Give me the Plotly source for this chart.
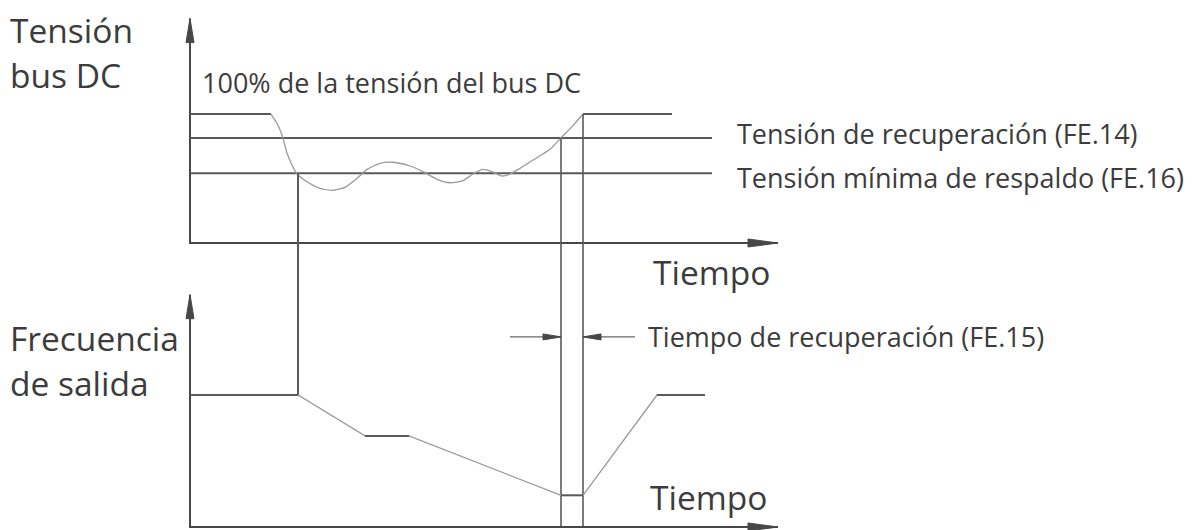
import plotly.graph_objects as go

W, H = 1194, 530

# ---------------- data ----------------
# time in arbitrary units, bus voltage in % of nominal, output frequency in % of reference
V_FULL = 100
V_REC = 81.5      # FE.14 recovery voltage
V_MIN = 54        # FE.16 minimum backup voltage

T_DROP = 81       # power loss begins
T_MIN = 108       # bus reaches minimum -> frequency starts to decrease
T_REC = 371       # bus reaches recovery voltage
T_FULL = 393      # bus back to 100 %
T_V_END = 482
T_LEVEL_END = 522
T_AXIS_END = 588

curve_t = [81, 87, 92, 97, 102, 107, 117, 130, 143, 155, 167, 177, 190, 203, 220,
           233, 247, 260, 273, 283, 293, 302, 312, 320, 330, 343, 360, 371, 382, 393]
curve_v = [100, 92.8, 83.7, 69.8, 60.5, 53.5, 47.5, 42.4, 40.9, 43.2, 50.2, 57.1, 61.8,
           62.6, 59.7, 55.3, 49.4, 46.7, 48.3, 53.5, 57.1, 55.3, 51.9, 53.5, 57.9, 64.3,
           72.6, 81.6, 90.2, 100]

freq_t = [0, 108, 175, 219, 371, 393, 467, 515]
freq_f = [100, 100, 69, 69, 24, 24, 100, 100]

V_AXIS_TOP = 174
F_AXIS_TOP = 176
F_ARROW = 144

label_v_axis = ["Tensión", "bus DC"]
label_f_axis = ["Frecuencia", "de salida"]
label_full = "100% de la tensión del bus DC"
label_rec = "Tensión de recuperación (FE.14)"
label_min = "Tensión mínima de respaldo (FE.16)"
label_time = "Tiempo"
label_rec_time = "Tiempo de recuperación (FE.15)"

# ---------------- layout helpers ----------------
X_RANGE = [-190, 1004]
V_RANGE = [-222.5, 188.4]
F_RANGE = [-2.27, 399.2]


def f_to_v(f):
    frac = (f - F_RANGE[0]) / (F_RANGE[1] - F_RANGE[0])
    return V_RANGE[0] + frac * (V_RANGE[1] - V_RANGE[0])


AX = "#474747"
LV = "#5a5a5a"
CURVE = "#9a9a9a"
TXT = "#3c3c3c"
FONT = "Open Sans"
BIG = 33.5
MED = 27

fig = go.Figure()


def seg(xs, ys, color, width, yaxis="y"):
    fig.add_trace(go.Scatter(x=xs, y=ys, mode="lines", yaxis=yaxis,
                             line=dict(color=color, width=width),
                             hoverinfo="skip", showlegend=False))


# axes of the two panels
seg([0, 0, T_AXIS_END], [V_AXIS_TOP, 0, 0], AX, 2)
seg([0, 0, T_AXIS_END], [F_AXIS_TOP, 0, 0], AX, 2, "y2")

# voltage levels
seg([0, T_DROP], [V_FULL, V_FULL], LV, 2)
seg([0, T_LEVEL_END], [V_REC, V_REC], LV, 2)
seg([0, T_LEVEL_END], [V_MIN, V_MIN], LV, 2)
seg([T_FULL, T_V_END], [V_FULL, V_FULL], LV, 2)

# bus voltage curve
fig.add_trace(go.Scatter(x=curve_t, y=curve_v, mode="lines",
                         line=dict(color=CURVE, width=1.3, shape="spline", smoothing=0.6),
                         hoverinfo="skip", showlegend=False))

# vertical connectors crossing both panels
seg([T_MIN, T_MIN], [V_MIN, f_to_v(freq_f[1])], LV, 2)
seg([T_REC, T_REC], [V_REC, f_to_v(0)], LV, 1.6)
seg([T_FULL, T_FULL], [V_FULL, f_to_v(0)], LV, 1.6)

# output frequency
fig.add_trace(go.Scatter(x=freq_t, y=freq_f, mode="lines", yaxis="y2",
                         line=dict(color=CURVE, width=1.3),
                         hoverinfo="skip", showlegend=False))
flat_x, flat_y = [], []
for i in range(0, len(freq_t), 2):
    flat_x += [freq_t[i], freq_t[i + 1], None]
    flat_y += [freq_f[i], freq_f[i + 1], None]
seg(flat_x, flat_y, LV, 2, "y2")

# recovery time indicator arrows
seg([T_REC - 51, T_REC], [F_ARROW, F_ARROW], "#666", 1.2, "y2")
seg([T_FULL, T_FULL + 52], [F_ARROW, F_ARROW], "#666", 1.2, "y2")

shapes = []


def head(x, y, yref, path):
    shapes.append(dict(type="path", xref="x", yref=yref, xsizemode="pixel", ysizemode="pixel",
                       xanchor=x, yanchor=y, path=path,
                       fillcolor=AX, line=dict(color=AX, width=1)))


UP = "M0,0 L-4,-24 L4,-24 Z"
RIGHT = "M0,0 L-30,-4 L-30,4 Z"
head(0, V_AXIS_TOP, "y", UP)
head(T_AXIS_END, 0, "y", RIGHT)
head(0, F_AXIS_TOP, "y2", UP)
head(T_AXIS_END, 0, "y2", RIGHT)
head(T_REC, F_ARROW, "y2", "M0,0 L-18,-3 L-18,3 Z")
head(T_FULL, F_ARROW, "y2", "M0,0 L18,-3 L18,3 Z")

ann = []


def text(s, px, py, size, xanchor="left"):
    ann.append(dict(text=s, x=px / W, y=1 - py / H, xref="paper", yref="paper",
                    xanchor=xanchor, yanchor="middle", showarrow=False, align="left",
                    font=dict(family=FONT, size=size, color=TXT)))


text(label_v_axis[0], 8, 30, BIG)
text(label_v_axis[1], 8, 75, BIG)
text(label_f_axis[0], 8, 338, BIG)
text(label_f_axis[1], 8, 383, BIG)
text(label_full, 200, 83, MED)
text(label_rec, 735, 133, MED)
text(label_min, 735, 177, MED)
text(label_time, 651, 272, BIG)
text(label_rec_time, 646, 336, MED)
text(label_time, 648, 497, BIG)

fig.update_layout(
    width=W, height=H, margin=dict(l=0, r=0, t=0, b=0),
    paper_bgcolor="white", plot_bgcolor="white",
    xaxis=dict(range=X_RANGE, visible=False, fixedrange=True),
    yaxis=dict(range=V_RANGE, visible=False, fixedrange=True),
    yaxis2=dict(range=F_RANGE, visible=False, overlaying="y", fixedrange=True),
    shapes=shapes, annotations=ann, showlegend=False,
)

fig.write_html("out.html", config={"displayModeBar": False},
               post_script="document.body.style.margin='0';document.body.style.overflow='hidden';")
